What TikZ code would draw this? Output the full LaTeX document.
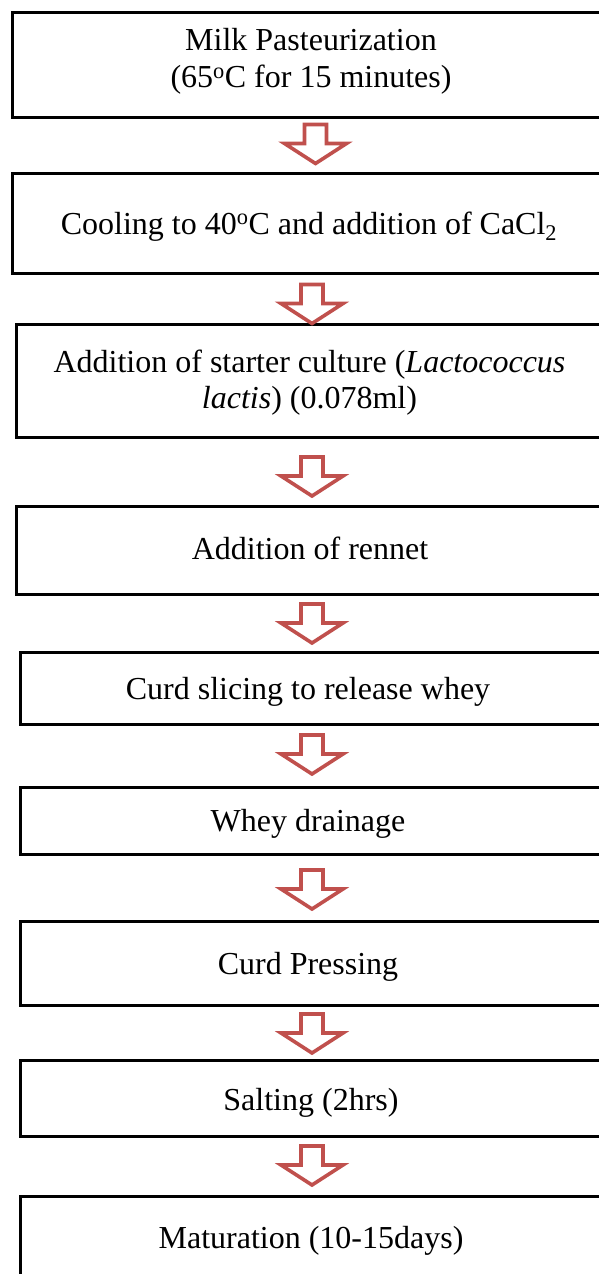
\documentclass[tikz,border=0pt]{standalone}
\usepackage{fontspec}
\setmainfont{Liberation Serif}
\definecolor{arrowred}{HTML}{C0504D}
\begin{document}
\begin{tikzpicture}[x=1pt,y=-1pt,
  stepbox/.style={draw=black, line width=3pt, rectangle, inner sep=0pt, anchor=north west},
  txt/.style={inner sep=0pt, anchor=base, font=\fontsize{32}{36.6}\selectfont},
  downarrow/.pic={
    \draw[arrowred, line width=3.6pt, miter limit=10, fill=white]
      (-11,0) -- (11,0) -- (11,19) -- (31,19) -- (0,39) -- (-31,19) -- (-11,19) -- cycle;
    \coordinate (-tip) at (0,39);
  }
]
\useasboundingbox (0,0) rectangle (599,1274);
\clip (0,0) rectangle (599,1274);

% process boxes (right edges run past the page)
\node[stepbox, minimum width=602, minimum height=104.5] (b1) at (11,11) {};
\node[stepbox, minimum width=602, minimum height=100]   (b2) at (11,172) {};
\node[stepbox, minimum width=598, minimum height=113]   (b3) at (15,323) {};
\node[stepbox, minimum width=598, minimum height=87.5]  (b4) at (15,505) {};
\node[stepbox, minimum width=594, minimum height=72]    (b5) at (18.5,651) {};
\node[stepbox, minimum width=594, minimum height=66.5]  (b6) at (18.5,786) {};
\node[stepbox, minimum width=594, minimum height=83.5]  (b7) at (18.5,920) {};
\node[stepbox, minimum width=594, minimum height=76]    (b8) at (18.5,1058.5) {};
\node[stepbox, minimum width=594, minimum height=120]   (b9) at (18.5,1194.5) {};

% step labels
\node[txt] (t1) at (311,50.7) {\begin{tabular}[t]{@{}c@{}}Milk Pasteurization\\(65\textsuperscript{o}C for 15 minutes)\end{tabular}};
\node[txt] (t2) at (309,234) {Cooling to 40\textsuperscript{o}C and addition of CaCl\textsubscript{2}};
\node[txt] (t3) at (309.5,372) {\begin{tabular}[t]{@{}c@{}}Addition of starter culture (\textit{Lactococcus}\\\textit{lactis}) (0.078ml)\end{tabular}};
\node[txt] (t4) at (310,559) {Addition of rennet};
\node[txt] (t5) at (308,699) {Curd slicing to release whey};
\node[txt] (t6) at (308,831) {Whey drainage};
\node[txt] (t7) at (308,974) {Curd Pressing};
\node[txt] (t8) at (311,1110) {Salting (2hrs)};
\node[txt] (t9) at (311,1248) {Maturation (10-15days)};

% block arrows between consecutive steps
\pic (a1) at (315.5,124.5) {downarrow};
\pic (a2) at (312,284.5) {downarrow};
\pic (a3) at (312,457) {downarrow};
\pic (a4) at (312,604) {downarrow};
\pic (a5) at (312,735) {downarrow};
\pic (a6) at (312,870) {downarrow};
\pic (a7) at (312,1014) {downarrow};
\pic (a8) at (312,1146) {downarrow};
\end{tikzpicture}
\end{document}
